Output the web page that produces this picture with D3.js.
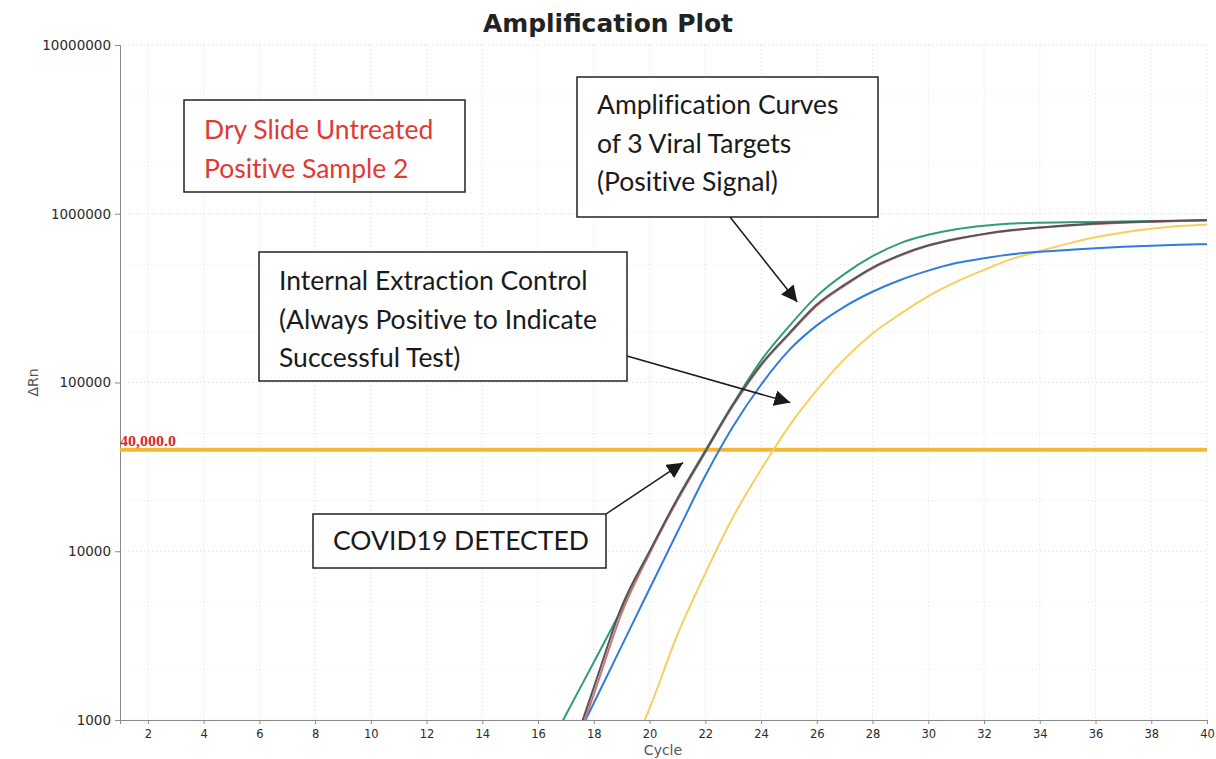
<!DOCTYPE html>
<html>
<head>
<meta charset="utf-8">
<script src="https://cdn.jsdelivr.net/npm/d3@7"></script>
<style>
  body { margin: 0; background: #fff; }
  svg { display: block; font-family: "DejaVu Sans", Verdana, sans-serif; }
  .note { font-family: Lato, "Open Sans", sans-serif; font-variant-ligatures: none; }
</style>
</head>
<body>
<svg id="chart" width="1216" height="759"></svg>
<script>
// cycle numbers and ΔRn readings for each well (null = below the plot floor)
var cycles = [16,17,18,19,20,21,22,23,24,25,26,27,28,29,30,31,32,33,34,35,36,37,38,39,40];
var green  = [520,1075,2200,4550,9800,20500,39500,75000,135000,215000,325000,440000,560000,670000,750000,810000,850000,875000,885000,890000,895000,900000,905000,910000,915000];
var red    = [null,480,1420,4300,9700,20000,38500,73000,126000,192000,285000,375000,475000,565000,645000,705000,755000,795000,825000,850000,870000,885000,895000,905000,912000];
var gray   = [null,510,1560,4700,10000,20500,39000,74000,128000,195000,290000,380000,480000,570000,650000,710000,760000,800000,830000,855000,875000,890000,900000,910000,918000];
var blue   = [null,580,1260,2750,6000,13000,28000,55000,97000,155000,218000,282000,345000,405000,460000,510000,545000,575000,595000,610000,625000,637000,647000,655000,660000];
var yellow = [null,null,null,480,1170,3200,7400,16000,30500,55000,90000,138000,195000,255000,325000,395000,465000,540000,600000,665000,725000,775000,815000,845000,865000];

var threshold = 40000;
var xTicks = [2,4,6,8,10,12,14,16,18,20,22,24,26,28,30,32,34,36,38,40];
var yTicks = [1000,10000,100000,1000000,10000000];

var svg = d3.select("#chart");
var W = 1216, H = 759;
var margin = {left: 120, right: 9, top: 45, bottom: 39};

var x = d3.scaleLinear().domain([1, 40]).range([margin.left, W - margin.right]);
var y = d3.scaleLog().domain([1000, 1e7]).range([H - margin.bottom, margin.top]);

svg.append("rect").attr("width", W).attr("height", H).attr("fill", "#fff");

// grid
var grid = svg.append("g").attr("stroke", "#dadada").attr("stroke-dasharray", "1,3");
grid.selectAll("line.v").data(xTicks).enter().append("line")
    .attr("x1", function(d) { return x(d); }).attr("x2", function(d) { return x(d); })
    .attr("y1", y(1e7)).attr("y2", y(1000));
var minor = [];
yTicks.forEach(function(t) { if (t < 1e7) { minor.push(t * 2, t * 5); } });
grid.selectAll("line.m").data(minor).enter().append("line")
    .attr("stroke", "#e8e8e8")
    .attr("x1", x(1)).attr("x2", x(40))
    .attr("y1", function(d) { return y(d); }).attr("y2", function(d) { return y(d); });
grid.selectAll("line.h").data(yTicks).enter().append("line")
    .attr("x1", x(1)).attr("x2", x(40))
    .attr("y1", function(d) { return y(d); }).attr("y2", function(d) { return y(d); });

// axes
var yAxis = svg.append("g").attr("transform", "translate(" + x(1) + ",0)")
    .call(d3.axisLeft(y).tickValues(yTicks).tickFormat(d3.format("d")).tickSize(5).tickPadding(4));
var xAxis = svg.append("g").attr("transform", "translate(0," + y(1000) + ")")
    .call(d3.axisBottom(x).tickValues(xTicks).tickFormat(d3.format("d")).tickSize(4).tickPadding(6));
[yAxis, xAxis].forEach(function(a) {
    a.selectAll("path, line").attr("stroke", "#8a8a8a");
    a.selectAll("text").attr("fill", "#2a2a2a").attr("font-family", "DejaVu Sans, sans-serif");
});
yAxis.selectAll("text").attr("font-size", 13.5);
xAxis.selectAll("text").attr("font-size", 11.5);

svg.append("text").attr("x", 608).attr("y", 32).attr("text-anchor", "middle")
    .attr("font-size", 24).attr("font-weight", "bold").attr("fill", "#222")
    .attr("textLength", 250).attr("lengthAdjust", "spacingAndGlyphs")
    .text("Amplification Plot");
svg.append("text").attr("x", 663).attr("y", 755).attr("text-anchor", "middle")
    .attr("font-size", 14).attr("fill", "#555").text("Cycle");
svg.append("text").attr("transform", "translate(38," + y(100000) + ") rotate(-90)")
    .attr("text-anchor", "middle").attr("font-size", 14).attr("fill", "#555").text("ΔRn");

// threshold
svg.append("line").attr("x1", x(1)).attr("x2", x(40))
    .attr("y1", y(threshold)).attr("y2", y(threshold))
    .attr("stroke", "#f6b632").attr("stroke-width", 4);
svg.append("text").attr("x", x(1)).attr("y", y(threshold) - 4)
    .attr("font-family", "Liberation Serif, serif").attr("font-weight", "bold")
    .attr("font-size", 15).attr("fill", "#d62b2b")
    .attr("textLength", 56).attr("lengthAdjust", "spacingAndGlyphs")
    .text(d3.format(",.1f")(threshold));

// curves
svg.append("clipPath").attr("id", "plot").append("rect")
    .attr("x", x(1)).attr("y", y(1e7)).attr("width", x(40) - x(1)).attr("height", y(1000) - y(1e7));

var line = d3.line()
    .defined(function(d) { return d[1] != null; })
    .x(function(d) { return x(d[0]); })
    .y(function(d) { return y(d[1]); })
    .curve(d3.curveMonotoneX);

var series = [
    {vals: yellow, color: "#f6cf5e"},
    {vals: blue, color: "#2f7be0"},
    {vals: green, color: "#2f9d7c"},
    {vals: red, color: "#cf7474"},
    {vals: gray, color: "#555555"}
];
svg.append("g").attr("clip-path", "url(#plot)")
    .selectAll("path").data(series).enter().append("path")
    .attr("fill", "none")
    .attr("stroke", function(d) { return d.color; })
    .attr("stroke-width", 2)
    .attr("d", function(d) { return line(cycles.map(function(c, i) { return [c, d.vals[i]]; })); });

// annotations
svg.append("defs").append("marker").attr("id", "arrow")
    .attr("viewBox", "0 0 10 10").attr("refX", 10).attr("refY", 5)
    .attr("markerWidth", 16).attr("markerHeight", 16).attr("markerUnits", "userSpaceOnUse")
    .attr("orient", "auto")
    .append("path").attr("d", "M0,0L10,5L0,10z").attr("fill", "#1a1a1a");

function box(x0, y0, w, h, lines, color, textY) {
    var g = svg.append("g").attr("class", "note");
    g.append("rect").attr("x", x0).attr("y", y0).attr("width", w).attr("height", h)
        .attr("fill", "#fff").attr("stroke", "#222").attr("stroke-width", 1.5);
    lines.forEach(function(t, i) {
        g.append("text").attr("x", x0 + 20).attr("y", textY + i * 38.5)
            .attr("font-size", 26.5).attr("fill", color).text(t);
    });
}
function arrow(px, py, cx, val) {
    svg.append("line").attr("x1", px).attr("y1", py).attr("x2", x(cx)).attr("y2", y(val))
        .attr("stroke", "#1a1a1a").attr("stroke-width", 1.5).attr("marker-end", "url(#arrow)");
}

arrow(730, 217, 25.3, 300000);
arrow(627, 356, 25.05, 76000);
arrow(606, 514, 21.2, 33500);

box(184, 100, 281, 92, ["Dry Slide Untreated", "Positive Sample 2"], "#e03a36", 139);
box(577, 77, 301, 140, ["Amplification Curves", "of 3 Viral Targets", "(Positive Signal)"], "#1a1a1a", 114);
box(259, 252, 368, 129, ["Internal Extraction Control", "(Always Positive to Indicate", "Successful Test)"], "#1a1a1a", 290);
box(313, 514, 293, 54, ["COVID19 DETECTED"], "#1a1a1a", 550);
</script>
</body>
</html>
